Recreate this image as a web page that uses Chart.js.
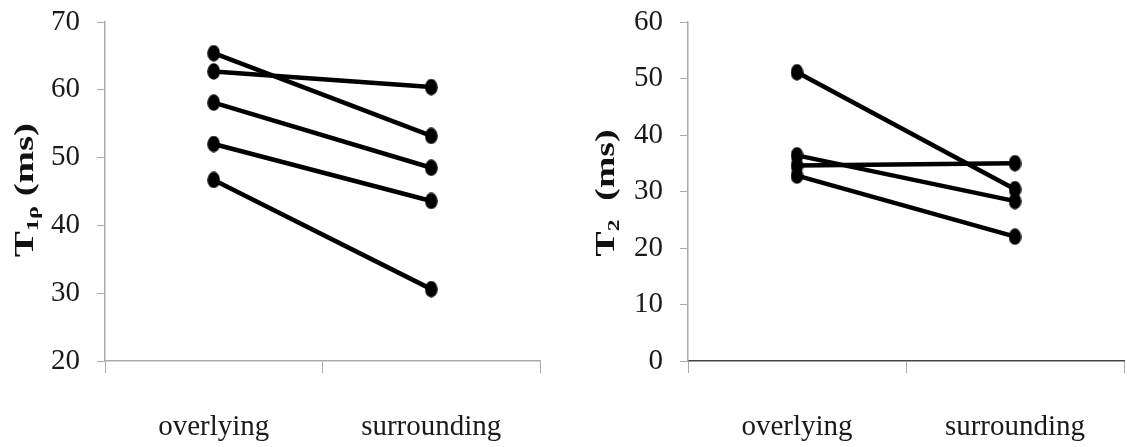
<!DOCTYPE html>
<html>
<head>
<meta charset="utf-8">
<script src="https://cdn.jsdelivr.net/npm/chart.js@4"></script>
<style>
html, body { margin: 0; padding: 0; background: #fff; }
#wrap { position: relative; width: 1127px; height: 447px; }
.box { position: absolute; top: 0; height: 447px; }
#leftBox { left: 0; width: 563px; }
#rightBox { left: 563px; width: 564px; }
</style>
</head>
<body>
<div id="wrap">
  <div class="box" id="leftBox"><canvas id="t1rhoChart"></canvas></div>
  <div class="box" id="rightBox"><canvas id="t2Chart"></canvas></div>
</div>
<script>
// Data
const categories = ['overlying', 'surrounding'];

// T1rho (ms), one pair per subject
const t1rhoOverlying = [65.4, 62.7, 58.1, 52.0, 46.7];
const t1rhoSurrounding = [53.2, 60.4, 48.5, 43.6, 30.6];
const t1rhoMin = 20;
const t1rhoMax = 70;
const t1rhoStep = 10;

// T2 (ms), one pair per subject
const t2Overlying = [51.1, 36.4, 34.6, 32.8];
const t2Surrounding = [30.4, 28.3, 35.0, 22.0];
const t2Min = 0;
const t2Max = 60;
const t2Step = 10;

const serif = '"Liberation Serif", "Times New Roman", serif';
const gray = '#ababab';

// slightly tall round marker, like the picture
const dot = document.createElement('canvas');
dot.width = 13;
dot.height = 17;
const dctx = dot.getContext('2d');
dctx.fillStyle = '#000';
dctx.beginPath();
dctx.ellipse(6.5, 8.5, 6.3, 8.3, 0, 0, Math.PI * 2);
dctx.fill();

// rotated y title with subscripts
const axisTitle = {
  id: 'axisTitle',
  afterDraw(chart, args, opts) {
    const ctx = chart.ctx;
    ctx.save();
    ctx.fillStyle = '#111';
    ctx.textBaseline = 'alphabetic';
    let natural = 0;
    const widths = [];
    opts.parts.forEach(p => {
      ctx.font = 'bold ' + p.size + 'px ' + serif;
      const w = ctx.measureText(p.text).width;
      widths.push(w);
      natural += w;
    });
    ctx.translate(opts.x, opts.y);
    ctx.rotate(-Math.PI / 2);
    ctx.scale(opts.length / natural, 1);
    let pos = -natural / 2;
    opts.parts.forEach((p, i) => {
      ctx.font = 'bold ' + p.size + 'px ' + serif;
      ctx.fillText(p.text, pos, p.dy || 0);
      pos += widths[i];
    });
    ctx.restore();
  }
};

function makeConfig(overlying, surrounding, yMin, yMax, yStep, yWidth, rightPad, xLineColor, title) {
  const datasets = overlying.map((v, i) => ({
    data: [v, surrounding[i]],
    borderColor: '#000',
    backgroundColor: '#000',
    borderWidth: 4.5,
    pointStyle: dot,
    pointRadius: 7,
    tension: 0
  }));

  return {
    type: 'line',
    data: { labels: categories, datasets: datasets },
    options: {
      responsive: true,
      maintainAspectRatio: false,
      animation: false,
      layout: {
        autoPadding: false,
        padding: { left: 0, right: rightPad, top: 22, bottom: 0 }
      },
      plugins: {
        legend: { display: false },
        tooltip: { enabled: false },
        axisTitle: title
      },
      scales: {
        x: {
          offset: true,
          grid: {
            offset: true,
            drawOnChartArea: false,
            tickLength: 12,
            color: c => (c.index === 2 ? xLineColor : gray)
          },
          border: { color: xLineColor, width: 1.5 },
          ticks: {
            color: '#1a1a1a',
            padding: 37,
            font: { family: serif, size: 29 }
          },
          afterFit: s => {
            s.height = 86;
            s.paddingLeft = 0;
            s.paddingRight = 0;
          }
        },
        y: {
          min: yMin,
          max: yMax,
          grid: { drawOnChartArea: false, tickLength: 8, color: gray },
          border: { color: gray, width: 1.5 },
          ticks: {
            stepSize: yStep,
            color: '#1a1a1a',
            padding: 17,
            font: { family: serif, size: 29 }
          },
          afterFit: s => {
            s.width = yWidth;
            s.paddingTop = 0;
            s.paddingBottom = 0;
          }
        }
      }
    },
    plugins: [axisTitle]
  };
}

const t1rhoChart = new Chart(
  document.getElementById('t1rhoChart'),
  makeConfig(t1rhoOverlying, t1rhoSurrounding, t1rhoMin, t1rhoMax, t1rhoStep, 105, 23, gray, {
    x: 33, y: 190, length: 134,
    parts: [
      { text: 'T', size: 27 },
      { text: '1\u03c1', size: 17, dy: 5 },
      { text: ' (ms)', size: 27 }
    ]
  })
);

const t2Chart = new Chart(
  document.getElementById('t2Chart'),
  makeConfig(t2Overlying, t2Surrounding, t2Min, t2Max, t2Step, 125, 3, '#444', {
    x: 51, y: 193, length: 127,
    parts: [
      { text: 'T', size: 27 },
      { text: '2', size: 17, dy: 5 },
      { text: '  (ms)', size: 27 }
    ]
  })
);
</script>
</body>
</html>
